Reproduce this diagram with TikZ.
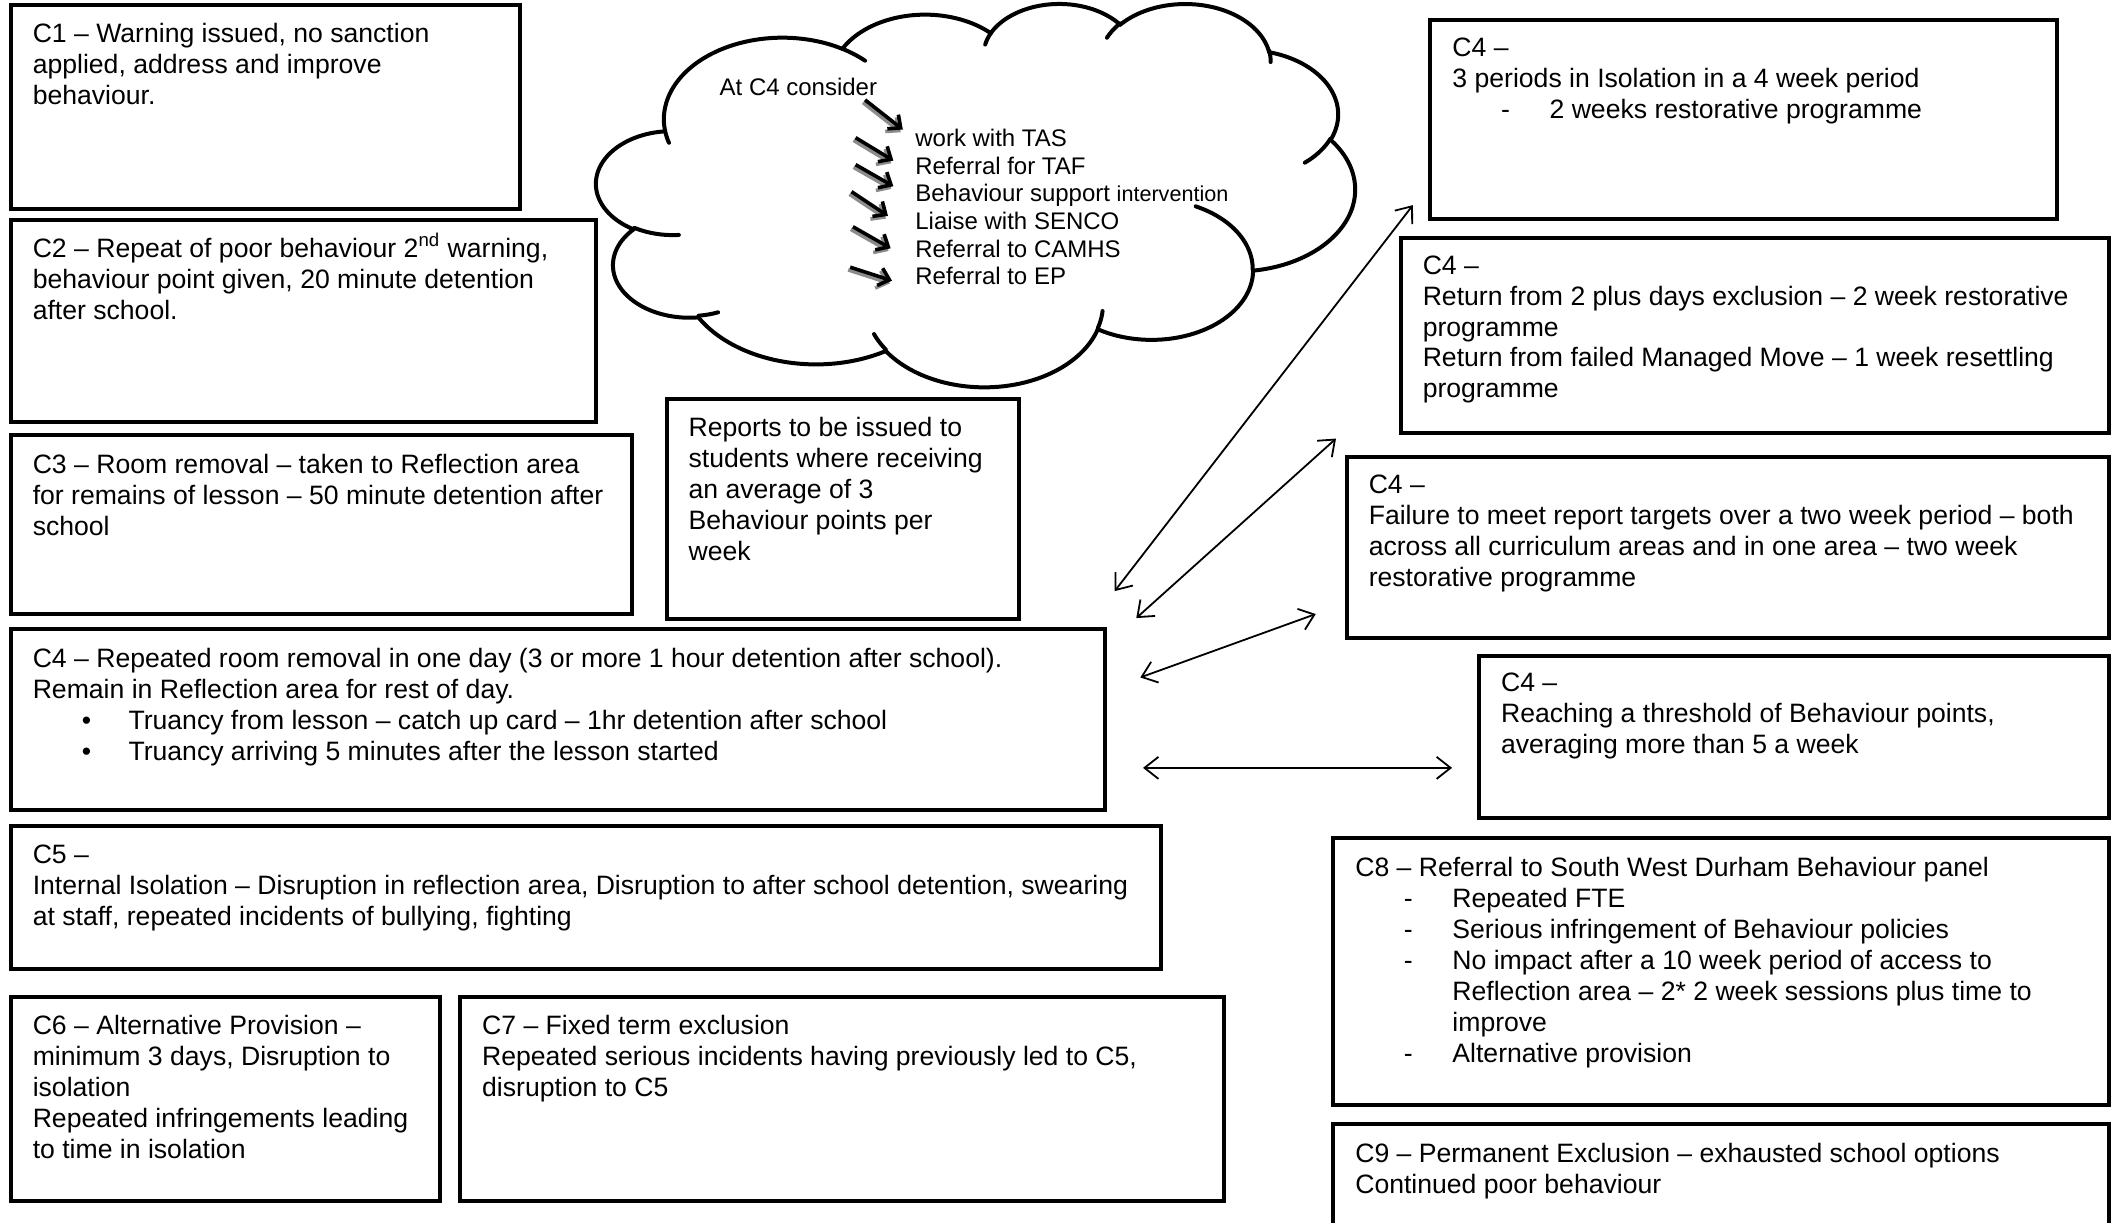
\documentclass[tikz,border=0pt]{standalone}
\usepackage{fontspec}
\setmainfont{Liberation Sans}
\usetikzlibrary{arrows.meta,fit}
% cloud frame (displayed px units)
\def\cxo{442}\def\cyo{2}\def\csx{1.3009}\def\csy{0.6574}
\newcommand\cmove[2]{\xdef\cpx{#1}\xdef\cpy{#2}}
\newcommand\carc[4]{%
  \pgfmathsetmacro\vS{#3}%
  \pgfmathsetmacro\vE{#3+#4}%
  \pgfmathsetmacro\aS{atan2(#1*sin(\vS),#2*cos(\vS))}%
  \pgfmathsetmacro\tS{\aS+360*round((\vS-\aS)/360)}%
  \pgfmathsetmacro\aE{atan2(#1*sin(\vE),#2*cos(\vE))}%
  \pgfmathsetmacro\tE{\aE+360*round((\vE-\aE)/360)}%
  \pgfmathsetmacro\ccx{\cpx-#1*cos(\tS)}%
  \pgfmathsetmacro\ccy{\cpy-#2*sin(\tS)}%
  \draw[cloudline] plot[domain=\tS:\tE,samples=40,variable=\ang,smooth] ({\cxo+(\ccx+#1*cos(\ang))*\csx},{\cyo+(\ccy+#2*sin(\ang))*\csy});
  \pgfmathsetmacro\npx{\ccx+#1*cos(\tE)}%
  \pgfmathsetmacro\npy{\ccy+#2*sin(\tE)}%
  \xdef\cpx{\npx}\xdef\cpy{\npy}%
}
\newcommand\bul{\makebox[47.9pt][l]{\hspace{24.6pt}•}}
\newcommand\dsh{\makebox[48.6pt][l]{\hspace{24.3pt}-}}
\begin{document}
\begin{tikzpicture}[x=0.675pt,y=-0.675pt,
  box/.style={draw,line width=2pt,inner sep=0pt},
  txt/.style={anchor=north west,inner sep=0pt,align=left,
    font=\fontsize{13.3pt}{15.5pt}\selectfont,execute at begin node=\strut},
  ctxt/.style={anchor=north west,inner sep=0pt,align=left,
    font=\fontsize{12pt}{13.8pt}\selectfont,execute at begin node=\strut},
  cloudline/.style={line width=2pt,line cap=round},
  dbl/.style={line width=0.9pt,{Straight Barb[length=7pt,width=11pt]}-{Straight Barb[length=7pt,width=11pt]}},
  carrow/.style={line width=1.8pt,-{Straight Barb[length=5pt,width=9pt]}},
  cshadow/.style={line width=1.8pt,draw=black!45,-{Straight Barb[length=5pt,width=9pt]}}]
\useasboundingbox (0,0) rectangle (1568,906);
\fill[white] (0,0) rectangle (1568,906);
\clip (0,0) rectangle (1568,906);

% ---------- boxes ----------
\node[box,fit={(8,4) (385,155)}] (c1) {};
\node[box,fit={(8,163) (442,313)}] (c2) {};
\node[box,fit={(8,322) (468,455)}] (c3) {};
\node[box,fit={(494,296) (755,459)}] (rep) {};
\node[box,fit={(8,466) (819,600)}] (c4m) {};
\node[box,fit={(8,612) (860,718)}] (c5) {};
\node[box,fit={(8,739) (326,890)}] (c6) {};
\node[box,fit={(341,739) (907,890)}] (c7) {};
\node[box,fit={(1060,15) (1524,162)}] (c4a) {};
\node[box,fit={(1038,176) (1563,321)}] (c4b) {};
\node[box,fit={(998,339) (1563,473)}] (c4c) {};
\node[box,fit={(1096,486) (1563,606)}] (c4d) {};
\node[box,fit={(988,621) (1563,819)}] (c8) {};
\node[box,fit={(988,833) (1563,930)}] (c9) {};

% ---------- texts ----------
\node[txt] (t1) at (24,17) {C1 – Warning issued, no sanction\\applied, address and improve\\behaviour.};
\node[txt] (t2) at (24,176) {C2 – Repeat of poor behaviour 2\smash{\textsuperscript{nd}} warning,\\behaviour point given, 20 minute detention\\after school.};
\node[txt] (t3) at (24,336) {C3 – Room removal – taken to Reflection area\\for remains of lesson – 50 minute detention after\\school};
\node[txt] (trep) at (510,309) {Reports to be issued to\\students where receiving\\an average of 3\\Behaviour points per\\week};
\node[txt] (t4m) at (24,480) {C4 – Repeated room removal in one day (3 or more 1 hour detention after school).\\Remain in Reflection area for rest of day.\\\bul Truancy from lesson – catch up card – 1hr detention after school\\\bul Truancy arriving 5 minutes after the lesson started};
\node[txt] (t5) at (24,626) {C5 –\\Internal Isolation – Disruption in reflection area, Disruption to after school detention, swearing\\at staff, repeated incidents of bullying, fighting};
\node[txt] (t6) at (24,752) {C6 – Alternative Provision –\\minimum 3 days, Disruption to\\isolation\\Repeated infringements leading\\to time in isolation};
\node[txt] (t7) at (357,752) {C7 – Fixed term exclusion\\Repeated serious incidents having previously led to C5,\\disruption to C5};
\node[txt] (t4a) at (1076,28) {C4 –\\3 periods in Isolation in a 4 week period\\\dsh 2 weeks restorative programme};
\node[txt] (t4b) at (1054,189) {C4 –\\Return from 2 plus days exclusion – 2 week restorative\\programme\\Return from failed Managed Move – 1 week resettling\\programme};
\node[txt] (t4c) at (1014,352) {C4 –\\Failure to meet report targets over a two week period – both\\across all curriculum areas and in one area – two week\\restorative programme};
\node[txt] (t4d) at (1112,498) {C4 –\\Reaching a threshold of Behaviour points,\\averaging more than 5 a week};
\node[txt] (t8) at (1004,635) {C8 – Referral to South West Durham Behaviour panel\\\dsh Repeated FTE\\\dsh Serious infringement of Behaviour policies\\\dsh No impact after a 10 week period of access to\\\hspace*{48.6pt}Reflection area – 2* 2 week sessions plus time to\\\hspace*{48.6pt}improve\\\dsh Alternative provision};
\node[txt] (t9) at (1004,847) {C9 – Permanent Exclusion – exhausted school options\\Continued poor behaviour};

% ---------- cloud ----------
\cmove{39.00}{143.70}
\carc{67.53}{91.90}{-190.4875}{123.7805}
\carc{53.33}{72.67}{-144.1024}{89.9452}
\carc{43.65}{59.45}{-145.8079}{99.7230}
\carc{48.57}{65.95}{-130.9861}{117.2417}
\carc{53.33}{72.73}{-78.7089}{109.0269}
\carc{67.75}{92.20}{-46.2673}{130.2690}
\carc{57.85}{78.67}{0.6250}{114.0333}
\carc{67.52}{92.15}{22.4516}{115.1726}
\carc{77.20}{105.43}{66.2426}{75.7110}
\carc{43.60}{59.18}{-274.9421}{146.7356}
\carc{43.45}{59.45}{-246.8285}{152.5246}
% inner tails
\cmove{46.93}{261.77}\carc{43.45}{59.45}{86.7420}{26.4295}
\cmove{69.28}{348.99}\carc{43.60}{59.18}{73.6105}{11.4475}
\cmove{164.78}{390.90}\carc{67.52}{92.15}{137.6242}{14.0811}
\cmove{288.27}{347.51}\carc{67.52}{92.15}{6.4533}{15.9984}
\cmove{341.29}{229.54}\carc{57.85}{78.67}{-70.2924}{70.9174}
\cmove{417.98}{153.54}\carc{53.33}{72.73}{30.3180}{27.7515}
\cmove{383.24}{54.26}\carc{48.57}{65.95}{-13.7443}{14.8589}
\cmove{290.78}{39.52}\carc{48.57}{65.95}{-149.1815}{18.1954}
\cmove{221.41}{47.20}\carc{43.65}{59.45}{-163.4943}{17.6864}
\cmove{140.00}{51.92}\carc{67.53}{91.90}{-66.7070}{12.3194}
\cmove{41.27}{157.89}\carc{67.53}{91.90}{157.6544}{11.8582}

\node[ctxt] (cons) at (533,56.5) {At C4 consider};
\node[ctxt] (clist) at (678,95.5) {work with TAS\\Referral for TAF\\Behaviour support {\fontsize{10.8pt}{13.8pt}\selectfont intervention}\\Liaise with SENCO\\Referral to CAMHS\\Referral to EP};

% cloud arrows
\foreach \n/\xa/\ya/\xb/\yb in {1/641/74/669/96, 2/634/102/662/119, 3/634/122/662/138, 4/631/142/658/160, 5/632/168/660/184, 6/630/198/661/208}{
  \coordinate (as\n) at (\xa,\ya);
  \coordinate (ae\n) at (\xb,\yb);
  \draw[cshadow] ([shift={(-1.5,2)}]as\n) -- ([shift={(-1.5,2)}]ae\n);
  \draw[carrow] (as\n) -- (ae\n);
}

% ---------- double arrows ----------
\coordinate (d1a) at (826,438); \coordinate (d1b) at (1047,152);
\coordinate (d2a) at (842,458); \coordinate (d2b) at (990,325);
\coordinate (d3a) at (845,502); \coordinate (d3b) at (975,455);
\coordinate (d4a) at (847,569); \coordinate (d4b) at (1076,569);
\draw[dbl] (d1a) -- (d1b);
\draw[dbl] (d2a) -- (d2b);
\draw[dbl] (d3a) -- (d3b);
\draw[dbl] (d4a) -- (d4b);
\end{tikzpicture}
\end{document}
